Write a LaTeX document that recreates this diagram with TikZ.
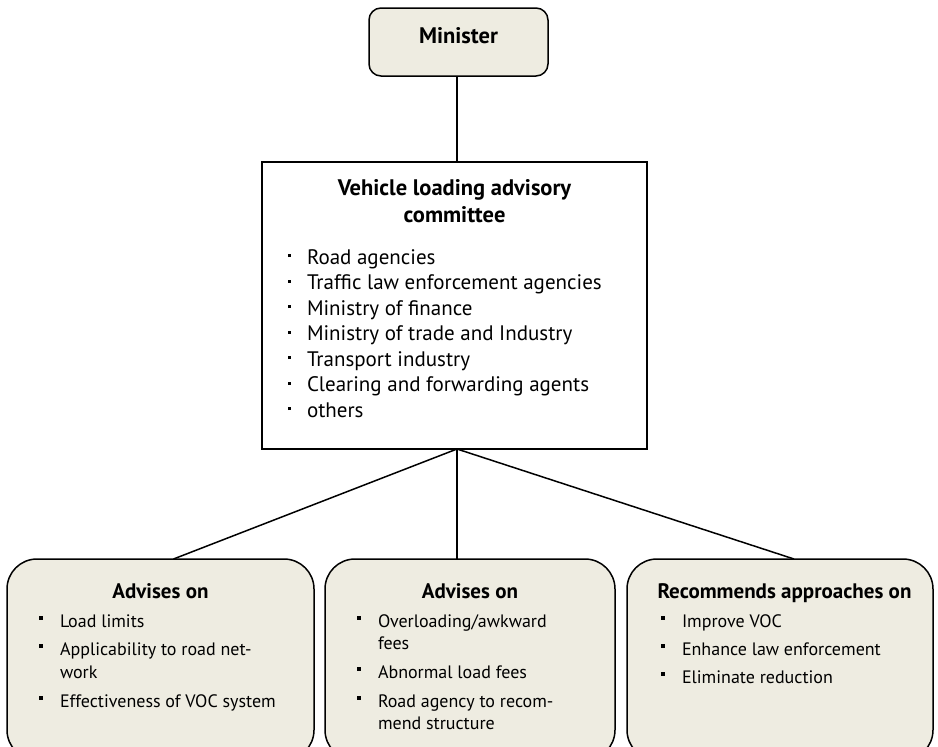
\documentclass[tikz,border=0pt]{standalone}
\usepackage{fontspec}
\setmainfont{PT Sans}
\definecolor{boxfill}{HTML}{EEECE1}
\newcommand\csq{\makebox[19pt][l]{\rule[7pt]{3pt}{3pt}}}
\newcommand\bsq{\makebox[21pt][l]{\rule[7.5pt]{3.5pt}{3.5pt}}}
\begin{document}
\begin{tikzpicture}[x=1pt,y=-1pt,
  every node/.style={inner sep=0pt, outer sep=0pt},
  rbox/.style={draw=black, line width=1.5pt, fill=boxfill, rounded corners=#1},
  sbox/.style={draw=black, line width=1.5pt, fill=white},
  link/.style={draw=black, line width=1.5pt},
  ctxt/.style={anchor=base west, font=\fontsize{21}{24}\selectfont},
  ctitle/.style={anchor=base, font=\fontsize{22.5}{26}\selectfont\bfseries},
  btxt/.style={anchor=base west, font=\fontsize{18}{21}\selectfont},
  btitle/.style={anchor=base, font=\fontsize{21}{24}\selectfont\bfseries},
  mtitle/.style={anchor=base, font=\fontsize{22.5}{26}\selectfont\bfseries}
]
\useasboundingbox (0,0) rectangle (938,747);
\clip (0,0) rectangle (938,747);

% boxes
\node[rbox=12pt, minimum width=179pt, minimum height=68pt] (min) at (458.5,42) {};
\node[sbox, minimum width=385pt, minimum height=287pt] (com) at (454.5,305.5) {};
\node[rbox=30pt, minimum width=307pt, minimum height=201pt] (lb) at (160.5,659.5) {};
\node[rbox=30pt, minimum width=290pt, minimum height=201pt] (mb) at (470,659.5) {};
\node[rbox=30pt, minimum width=306pt, minimum height=201pt] (rb) at (780,659.5) {};

% connectors
\coordinate (lend) at ([xshift=13pt]lb.north);
\coordinate (rend) at ([xshift=14pt]rb.north);
\draw[link] (min.south -| 457,0) -- (com.north -| 457,0);
\coordinate (cbot) at (com.south -| 457,0);
\draw[link] (cbot) -- (lend);
\draw[link] (cbot) -- (cbot |- mb.north);
\draw[link] (cbot) -- (rend);

% minister
\node[mtitle] (mint) at (458.5,43) {Minister};

% committee
\node[ctitle] (ct1) at (454.5,195) {Vehicle loading advisory};
\node[ctitle] (ct2) at (454.5,222) {committee};
\node[ctxt] (c1) at (288,264) {\csq Road agencies};
\node[ctxt] (c2) at (288,289.5) {\csq Traffic law enforcement agencies};
\node[ctxt] (c3) at (288,315) {\csq Ministry of finance};
\node[ctxt] (c4) at (288,340.5) {\csq Ministry of trade and Industry};
\node[ctxt] (c5) at (288,366) {\csq Transport industry};
\node[ctxt] (c6) at (288,391.5) {\csq Clearing and forwarding agents};
\node[ctxt] (c7) at (288,417) {\csq others};

% left bottom
\node[btitle] (lt) at (160.5,598) {Advises on};
\node[btxt] (l1) at (39,627) {\bsq Load limits};
\node[btxt] (l2a) at (39,655) {\bsq Applicability to road net-};
\node[btxt] (l2b) at (60,678) {work};
\node[btxt] (l3) at (39,707) {\bsq Effectiveness of VOC system};

% middle bottom
\node[btitle] (mt) at (470,598) {Advises on};
\node[btxt] (m1a) at (357,627) {\bsq Overloading/awkward};
\node[btxt] (m1b) at (378,649) {fees};
\node[btxt] (m2) at (357,678) {\bsq Abnormal load fees};
\node[btxt] (m3a) at (357,707) {\bsq Road agency to recom-};
\node[btxt] (m3b) at (378,729) {mend structure};

% right bottom
\node[btitle] (rt) at (784.5,598) {Recommends approaches on};
\node[btxt] (r1) at (661,627) {\bsq Improve VOC};
\node[btxt] (r2) at (661,655) {\bsq Enhance law enforcement};
\node[btxt] (r3) at (661,683) {\bsq Eliminate reduction};
\end{tikzpicture}
\end{document}
